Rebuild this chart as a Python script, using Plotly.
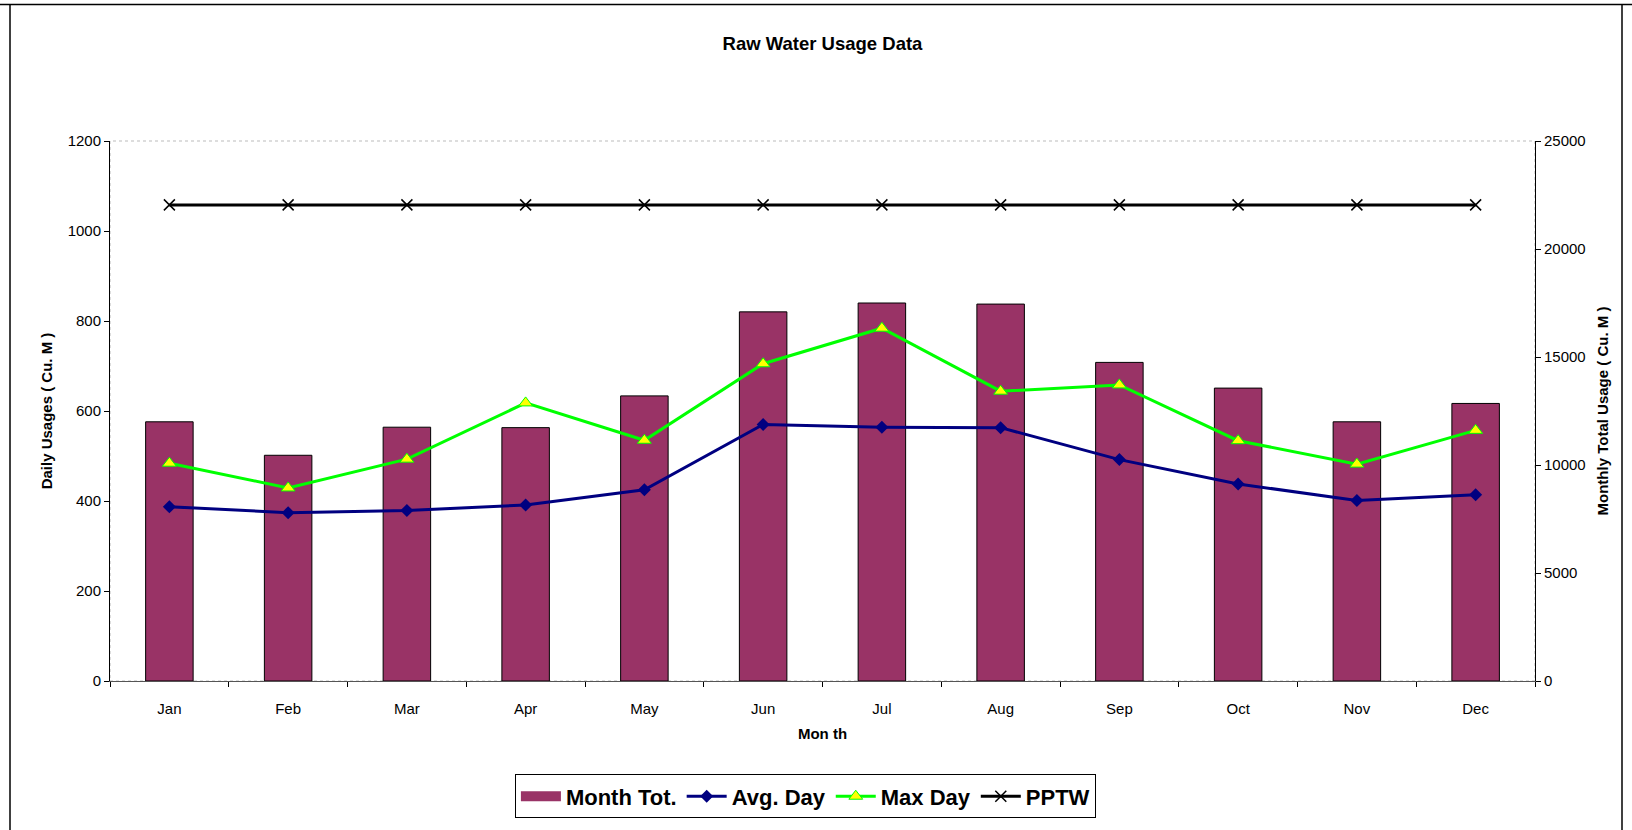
import plotly.graph_objects as go

months = ["Jan", "Feb", "Mar", "Apr", "May", "Jun", "Jul", "Aug", "Sep", "Oct", "Nov", "Dec"]
month_total = [12000, 10450, 11750, 11730, 13200, 17090, 17500, 17450, 14750, 13560, 12000, 12850]
avg_day = [387, 374, 379, 391, 425, 570, 564, 563, 492, 438, 401, 414]
max_day = [484, 429, 493, 618, 535, 705, 784, 644, 658, 534, 482, 557]
pptw = [1058, 1058, 1058, 1058, 1058, 1058, 1058, 1058, 1058, 1058, 1058, 1058]

FONT = "Liberation Sans, Arial, sans-serif"
BAR_COLOR = "#993366"

fig = go.Figure()

fig.add_trace(go.Bar(
    x=months, y=month_total, name="Month Tot.", yaxis="y", width=0.4, showlegend=False,
    marker=dict(color=BAR_COLOR, line=dict(color="#000000", width=1)),
))
# legend-only entry giving the wide rectangular swatch of the bar series
fig.add_trace(go.Scatter(
    x=[None], y=[None], name="Month Tot.", yaxis="y", mode="lines",
    line=dict(color=BAR_COLOR, width=16),
))
fig.add_trace(go.Scatter(
    x=months, y=avg_day, name="Avg. Day", yaxis="y2", mode="lines+markers",
    line=dict(color="#000080", width=3),
    marker=dict(symbol="diamond", size=10, color="#000080"),
))
fig.add_trace(go.Scatter(
    x=months, y=max_day, name="Max Day", yaxis="y2", mode="lines+markers",
    line=dict(color="#00FF00", width=3),
    marker=dict(symbol="triangle-up", size=12, color="#FFFF00",
                line=dict(color="#00FF00", width=1)),
))
fig.add_trace(go.Scatter(
    x=months, y=pptw, name="PPTW", yaxis="y2", mode="lines+markers",
    line=dict(color="#000000", width=3),
    marker=dict(symbol="x-thin", size=11, color="#000000",
                line=dict(color="#000000", width=1.5)),
))

axis_common = dict(
    showgrid=False, zeroline=False, showline=True, linecolor="#000000", linewidth=1,
    ticks="outside", ticklen=5, tickcolor="#000000", tickformat="d",
    tickfont=dict(family=FONT, size=15, color="#000000"),
)

fig.update_layout(
    width=1632, height=830,
    margin=dict(l=110, r=97, t=141, b=143),
    paper_bgcolor="#FFFFFF", plot_bgcolor="#FFFFFF",
    font=dict(family=FONT, color="#000000"),
    title=dict(text="<b>Raw Water Usage Data</b>", x=0.5, xref="paper", y=1 - 44 / 830,
               yanchor="middle", font=dict(family=FONT, size=18.5, color="#000000")),
    bargap=0.6,
    xaxis=dict(
        type="category", tickson="boundaries", range=[-0.5, 11.5],
        showgrid=False, zeroline=False, showline=True, linecolor="#555555", linewidth=1,
        ticks="outside", ticklen=5, tickcolor="#000000", ticklabelstandoff=14,
        tickfont=dict(family=FONT, size=15, color="#000000"),
        title=dict(text="<b>Mon th</b>", font=dict(family=FONT, size=15), standoff=12),
    ),
    yaxis=dict(
        side="right", range=[0, 25000], dtick=5000, **axis_common,
        title=dict(text="<b>Monthly Total Usage ( Cu. M )</b>", font=dict(family=FONT, size=15), standoff=12),
    ),
    yaxis2=dict(
        overlaying="y", side="left", range=[0, 1200], dtick=200, **axis_common,
        title=dict(text="<b>Daily Usages ( Cu. M )</b>", font=dict(family=FONT, size=15), standoff=11),
    ),
    showlegend=True,
    legend=dict(
        orientation="h", x=0.488, xanchor="center", y=-0.173, yanchor="top",
        bordercolor="#000000", borderwidth=1, bgcolor="#FFFFFF",
        font=dict(family=FONT, size=22, color="#000000", weight="bold"),
        itemwidth=40, tracegroupgap=0,
    ),
    shapes=[
        dict(type="rect", xref="paper", yref="paper", x0=0, x1=1, y0=0, y1=1,
             line=dict(color="#BBBBBB", width=1, dash="dot"), layer="below"),
        dict(type="line", xref="paper", yref="paper", x0=-110 / 1425, x1=1522 / 1425,
             y0=684 / 546, y1=684 / 546, line=dict(color="#000000", width=1.5)),
        dict(type="line", xref="paper", yref="paper", x0=-100 / 1425, x1=-100 / 1425,
             y0=684 / 546, y1=-0.3, line=dict(color="#000000", width=1.5)),
        dict(type="line", xref="paper", yref="paper", x0=1512 / 1425, x1=1512 / 1425,
             y0=684 / 546, y1=-0.3, line=dict(color="#000000", width=1.5)),
    ],
)

fig.write_html("out.html", config={"displayModeBar": False},
               post_script="document.body.style.margin='0';document.body.style.overflow='hidden';")
